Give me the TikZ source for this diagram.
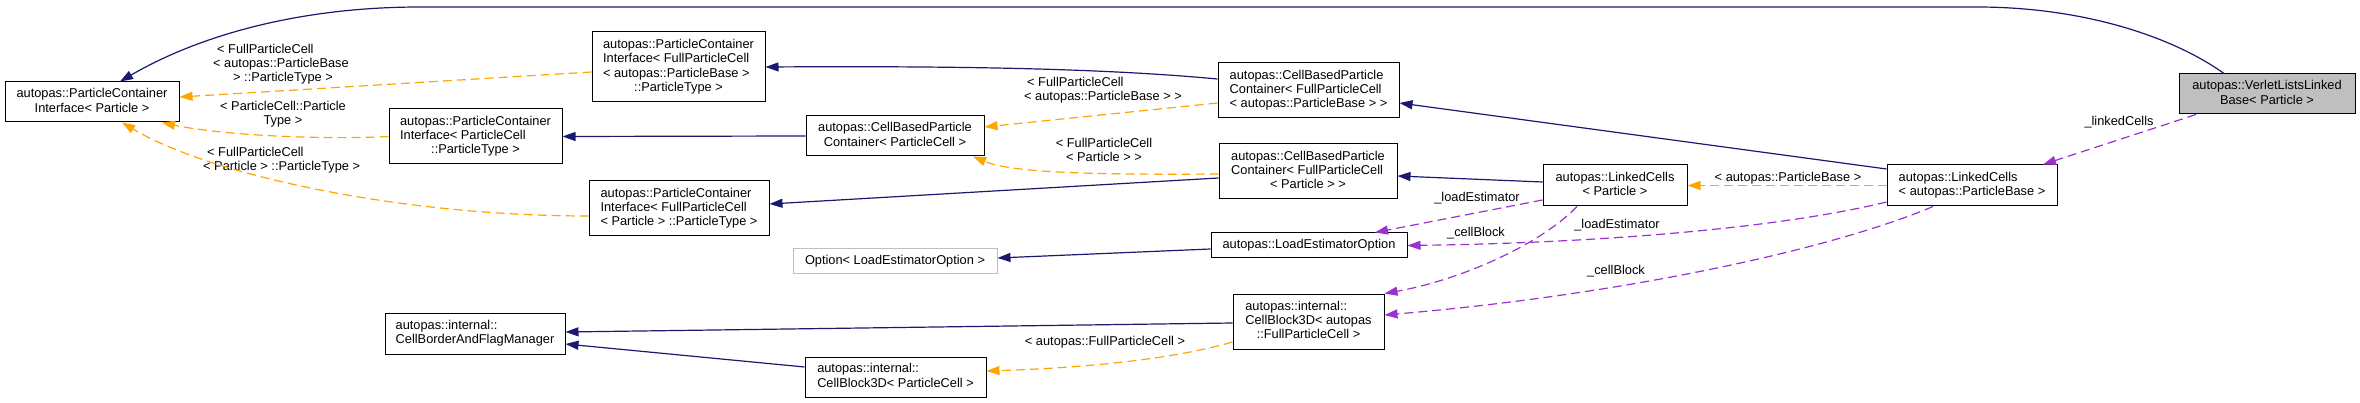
\documentclass[tikz,border=0pt]{standalone}
\usepackage{fontspec}
\setmainfont{Liberation Sans}
\usetikzlibrary{arrows.meta}
\definecolor{navy}{HTML}{191970}
\definecolor{tmplorange}{HTML}{FFA500}
\definecolor{orchid}{HTML}{9A32CD}
\definecolor{grey75}{HTML}{BFBFBF}
\newcommand{\nlines}[2]{\begin{tabular}{@{}l@{}}#1\\\multicolumn{1}{@{}c@{}}{#2}\end{tabular}}

\begin{document}
\begin{tikzpicture}[x=1pt, y=-1pt, font=\fontsize{12.8}{14.3}\selectfont,
  cls/.style={draw=black, line width=1pt, inner sep=0pt, align=center},
  inh/.style={navy, line width=1.2pt, -{Triangle[length=13pt,width=9pt]}},
  tmpl/.style={tmplorange, line width=1.2pt, dash pattern=on 9pt off 5pt, -{Triangle[length=13pt,width=9pt]}},
  usage/.style={orchid, line width=1.2pt, dash pattern=on 9pt off 5pt, -{Triangle[length=13pt,width=9pt]}},
  elbl/.style={inner sep=0pt}]
  \useasboundingbox (0,0) rectangle (2360,403);
  \node[cls, fill=grey75, minimum width=176pt, minimum height=40pt] (vllb) at (2267,94) {\nlines{autopas::VerletListsLinked}{Base< Particle >}};
  \node[cls, minimum width=174pt, minimum height=40pt] (pcip) at (92,102) {\nlines{autopas::ParticleContainer}{Interface< Particle >}};
  \node[cls, minimum width=173pt, minimum height=70pt] (pcifpb) at (678.5,67) {\nlines{autopas::ParticleContainer\\Interface< FullParticleCell\\< autopas::ParticleBase >}{::ParticleType >}};
  \node[cls, minimum width=173pt, minimum height=55pt] (pcipc) at (475.5,136.5) {\nlines{autopas::ParticleContainer\\Interface< ParticleCell}{::ParticleType >}};
  \node[cls, minimum width=180pt, minimum height=55pt] (pcifp) at (679,208.5) {\nlines{autopas::ParticleContainer\\Interface< FullParticleCell}{< Particle > ::ParticleType >}};
  \node[cls, minimum width=180pt, minimum height=41pt] (cbfm) at (475,333.5) {\nlines{autopas::internal::}{CellBorderAndFlagManager}};
  \node[cls, minimum width=181pt, minimum height=55pt] (cbpcfpb) at (1308.5,90.5) {\nlines{autopas::CellBasedParticle\\Container< FullParticleCell}{< autopas::ParticleBase > >}};
  \node[cls, minimum width=178pt, minimum height=40pt] (cbpcpc) at (895,136) {\nlines{autopas::CellBasedParticle}{Container< ParticleCell >}};
  \node[cls, minimum width=178pt, minimum height=55pt] (cbpcfp) at (1308,171.5) {\nlines{autopas::CellBasedParticle\\Container< FullParticleCell}{< Particle > >}};
  \node[cls, minimum width=196pt, minimum height=25pt] (leo) at (1309,245.5) {autopas::LoadEstimatorOption};
  \node[cls, draw=grey75, minimum width=204pt, minimum height=25pt] (optleo) at (895,261.5) {Option< LoadEstimatorOption >};
  \node[cls, minimum width=151pt, minimum height=55pt] (cb3dfpc) at (1308.5,321.5) {\nlines{autopas::internal::\\CellBlock3D< autopas}{::FullParticleCell >}};
  \node[cls, minimum width=181pt, minimum height=40pt] (cb3dpc) at (895.5,377) {\nlines{autopas::internal::}{CellBlock3D< ParticleCell >}};
  \node[cls, minimum width=144pt, minimum height=41pt] (lcp) at (1615,185.5) {\nlines{autopas::LinkedCells}{< Particle >}};
  \node[cls, minimum width=170pt, minimum height=41pt] (lcpb) at (1972,185.5) {\nlines{autopas::LinkedCells}{< autopas::ParticleBase >}};
  % edge labels
  \node[elbl, anchor=west, align=left] (l_pcifpb) at (213,64) {\hspace*{4pt}< FullParticleCell\\< autopas::ParticleBase\\\hspace*{20pt}> ::ParticleType >};
  \node[elbl, align=center] (l_pcipc) at (283,114) {< ParticleCell::Particle\\Type >};
  \node[elbl, anchor=west, align=left] (l_pcifp) at (203,160) {\hspace*{4pt}< FullParticleCell\\< Particle > ::ParticleType >};
  \node[elbl, anchor=west, align=left] (l_cbpcfpb) at (1024,90) {\hspace*{3pt}< FullParticleCell\\< autopas::ParticleBase > >};
  \node[elbl, align=center] (l_cbpcfp) at (1104,150) {< FullParticleCell\\< Particle > >};
  \node[elbl] (l_cb3d) at (1105,342) {< autopas::FullParticleCell >};
  \node[elbl] (l_lc) at (1788,178) {< autopas::ParticleBase >};
  \node[elbl] (l_linked) at (2119,122) {\_linkedCells};
  \node[elbl] (l_load1) at (1477,198) {\_loadEstimator};
  \node[elbl] (l_cell1) at (1476,233) {\_cellBlock};
  \node[elbl] (l_load2) at (1617,225) {\_loadEstimator};
  \node[elbl] (l_cell2) at (1616,271) {\_cellBlock};
  % inheritance
  \draw[inh] ([xshift=-43pt]vllb.north) .. controls (2170,35) and (2080,7) .. (1977,7) -- (420,7) .. controls (300,7) and (200,35) .. ([xshift=28pt]pcip.north);
  \draw[inh] ([yshift=11.5pt]cbpcfpb.west) .. controls (1100,68) and (950,66) .. (pcifpb.east);
  \draw[inh] (cbpcpc.west) -- (pcipc.east);
  \draw[inh] ([yshift=-6.5pt]cbpcfp.west) -- ([yshift=4.5pt]pcifp.east);
  \draw[inh] ([yshift=16.5pt]lcpb.west) -- ([yshift=-12.5pt]cbpcfpb.east);
  \draw[inh] ([yshift=3.5pt]lcp.west) -- ([yshift=-4.5pt]cbpcfp.east);
  \draw[inh] ([yshift=-3.5pt]leo.west) -- ([yshift=3.5pt]optleo.east);
  \draw[inh] ([yshift=-1.5pt]cb3dfpc.west) -- ([yshift=1.5pt]cbfm.east);
  \draw[inh] ([yshift=10pt]cb3dpc.west) -- ([yshift=-10.5pt]cbfm.east);
  % template instances
  \draw[tmpl] ([yshift=-5pt]pcifpb.west) -- ([yshift=5pt]pcip.east);
  \draw[tmpl] (pcipc.west) .. controls (320,140) and (220,135) .. ([xshift=70pt]pcip.south);
  \draw[tmpl] ([yshift=-7.5pt]pcifp.west) .. controls (400,216) and (210,175) .. ([xshift=30pt]pcip.south);
  \draw[tmpl] ([yshift=-12.5pt]cbpcfpb.west) -- ([yshift=9pt]cbpcpc.east);
  \draw[tmpl] ([yshift=-2.5pt]cbpcfp.west) .. controls (1080,175) and (1010,172) .. ([xshift=78pt]cbpcpc.south);
  \draw[tmpl] (lcpb.west) -- (lcp.east);
  \draw[tmpl] ([yshift=-20.5pt]cb3dfpc.west) .. controls (1170,360) and (1080,368) .. ([yshift=6pt]cb3dpc.east);
  % members
  \draw[usage] ([xshift=-71pt]vllb.south) -- ([xshift=71pt]lcpb.north);
  \draw[usage] ([yshift=-14.5pt]lcp.west) -- ([xshift=66pt]leo.north);
  \draw[usage] ([yshift=-16.5pt]lcpb.west) .. controls (1780,228) and (1600,243) .. (leo.east);
  \draw[usage] ([xshift=-38pt]lcp.south) .. controls (1540,245) and (1460,280) .. (cb3dfpc.north east);
  \draw[usage] ([xshift=-39pt]lcpb.south) .. controls (1830,250) and (1620,295) .. ([yshift=6.5pt]cb3dfpc.east);
\end{tikzpicture}
\end{document}
